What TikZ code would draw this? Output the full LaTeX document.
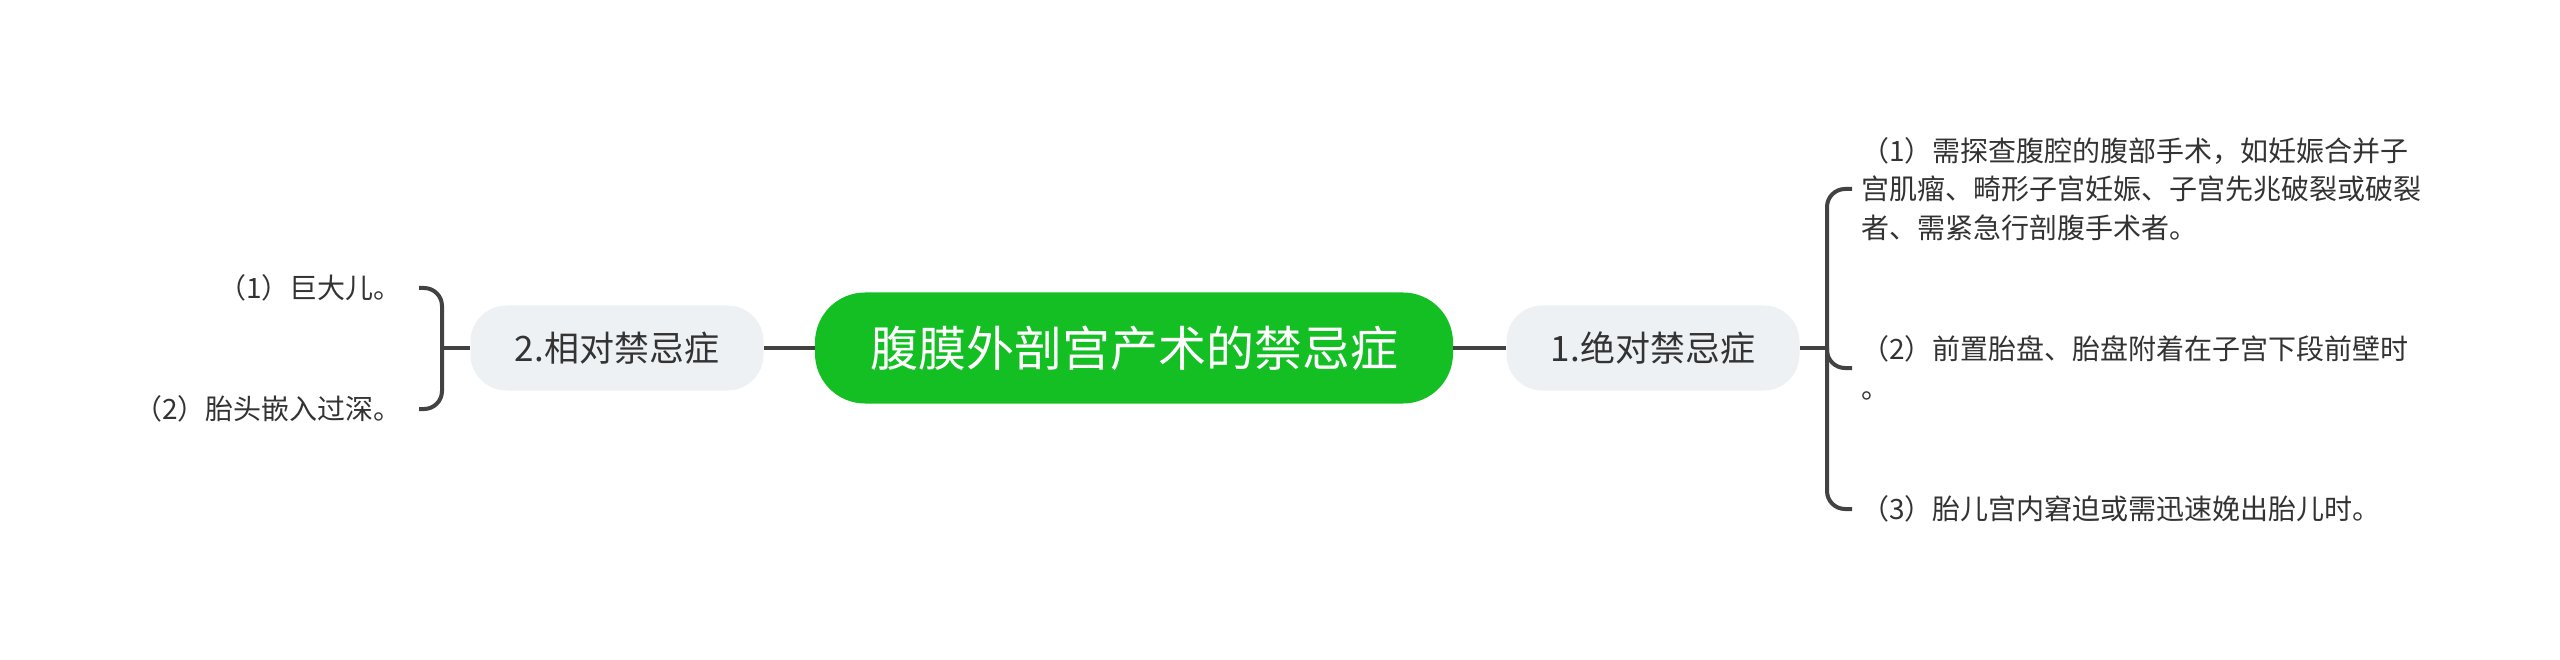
\documentclass[tikz,border=0pt]{standalone}
\usepackage{fontspec}
\setmainfont{Noto Sans CJK SC}
\usepackage{tikz}
\definecolor{rootgreen}{RGB}{20,191,36}
\definecolor{topicgray}{RGB}{237,241,244}
\definecolor{linegray}{RGB}{66,66,66}
\definecolor{textgray}{RGB}{51,51,51}

\begin{document}
\begin{tikzpicture}[x=1pt,y=-1pt,
  root/.style={fill=rootgreen,text=white,rounded corners=50pt,minimum width=638pt,minimum height=111pt,font=\fontsize{48}{56}\selectfont},
  topic/.style={fill=topicgray,text=textgray,rounded corners=36pt,minimum width=293pt,minimum height=85pt,font=\fontsize{35}{42}\selectfont},
  item/.style={text=textgray,align=left,inner xsep=9pt,inner ysep=0pt,font=\fontsize{28}{38.5}\selectfont},
  link/.style={draw=linegray,line width=4pt},
  brace/.style={link,rounded corners=18pt}]
\useasboundingbox[fill=white] (0,0) rectangle (2560,660);

% main topic and the two branches
\node[root] (root) at (1134,348) {腹膜外剖宫产术的禁忌症};
\node[topic] (abs) at (1653,348) {1.绝对禁忌症};
\node[topic] (rel) at (617,348) {2.相对禁忌症};
\coordinate (absj) at (1827,348);
\coordinate (relj) at (442,348);

% details
\node[item,anchor=west] (abs1) at (1852,189) {（1）需探查腹腔的腹部手术，如妊娠合并子\\宫肌瘤、畸形子宫妊娠、子宫先兆破裂或破裂\\者、需紧急行剖腹手术者。};
\node[item,anchor=west] (abs2) at (1852,368) {（2）前置胎盘、胎盘附着在子宫下段前壁时\\。};
\node[item,anchor=west] (abs3) at (1852,509) {（3）胎儿宫内窘迫或需迅速娩出胎儿时。};
\node[item,anchor=east,align=right,inner xsep=17pt] (rel1) at (419,288) {（1）巨大儿。};
\node[item,anchor=east,align=right,inner xsep=17pt] (rel2) at (419,409) {（2）胎头嵌入过深。};

\draw[link] (root) -- (abs);
\draw[link] (rel) -- (root);
\draw[link] (abs) -- (absj);
\draw[link] (rel) -- (relj);
\foreach \n in {abs1,abs2,abs3} \draw[brace] (absj) |- (\n.west);
\foreach \n in {rel1,rel2} \draw[brace] (relj) |- (\n.east);
\end{tikzpicture}
\end{document}
